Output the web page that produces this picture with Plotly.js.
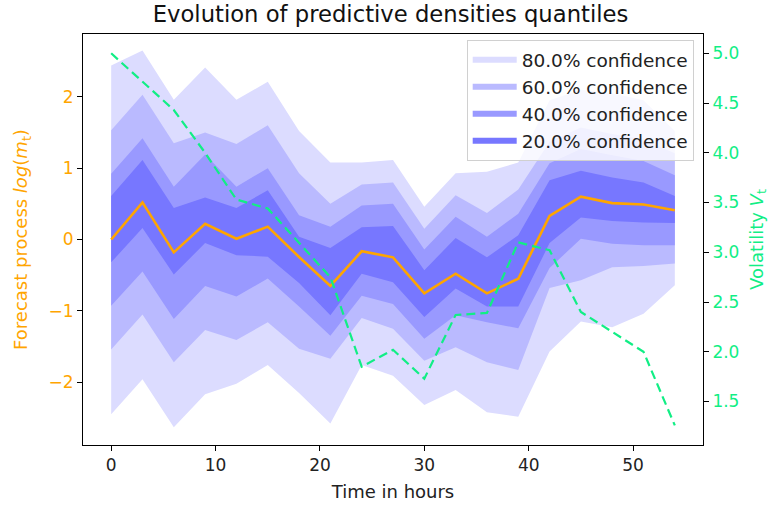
<!DOCTYPE html>
<html>
<head>
<meta charset="utf-8">
<script src="https://cdn.plot.ly/plotly-3.0.1.min.js"></script>
<style>html,body{margin:0;padding:0;background:#fff;}#chart{width:774px;height:507px;}</style>
</head>
<body>
<div id="chart"></div>
<script>
const hours = [0,3,6,9,12,15,18,21,24,27,30,33,36,39,42,45,48,51,54];
const median = [0.0,0.52,-0.18,0.22,0.01,0.18,-0.245,-0.65,-0.165,-0.25,-0.755,-0.48,-0.755,-0.55,0.33,0.60,0.51,0.49,0.41];
const volatility = [5.0,4.72,4.43,4.0,3.53,3.44,3.1,2.75,1.85,2.02,1.73,2.37,2.39,3.10,3.02,2.40,2.20,2.0,1.26];
const upper80 = [2.44,2.65,1.96,2.41,1.96,2.21,1.52,1.08,1.08,1.115,0.46,0.93,0.95,1.08,1.95,2.10,2.05,1.95,1.52];
const upper60 = [1.53,2.03,1.35,1.50,1.34,1.60,0.93,0.50,0.77,0.80,0.15,0.62,0.37,0.70,1.37,1.57,1.48,1.40,1.21];
const upper40 = [0.92,1.42,0.74,1.19,0.74,1.00,0.34,0.18,0.475,0.50,-0.14,0.32,0.04,0.36,1.07,1.27,1.18,1.10,0.90];
const upper20 = [0.61,1.115,0.44,0.59,0.44,0.69,0.04,-0.12,0.17,0.19,-0.43,0.02,-0.25,0.06,0.83,0.965,0.87,0.80,0.61];
const lower20 = [-0.32,0.16,-0.49,-0.05,-0.22,-0.24,-0.61,-1.06,-0.48,-0.60,-1.085,-0.685,-0.94,-0.94,-0.05,0.31,0.26,0.24,0.23];
const lower40 = [-0.93,-0.45,-1.115,-0.65,-0.80,-0.545,-0.94,-1.35,-0.79,-0.905,-1.39,-1.06,-1.16,-1.245,-0.40,0.01,-0.06,-0.08,-0.08];
const lower60 = [-1.54,-1.05,-1.72,-1.27,-1.41,-1.16,-1.53,-1.67,-1.10,-1.25,-1.70,-1.51,-1.72,-1.83,-0.68,-0.57,-0.39,-0.37,-0.335];
const lower80 = [-2.45,-1.96,-2.63,-2.17,-2.02,-1.76,-2.15,-2.58,-1.76,-1.91,-2.32,-2.11,-2.42,-2.485,-1.57,-1.15,-1.23,-1.04,-0.64];
const bandLabels = ["80.0% confidence","60.0% confidence","40.0% confidence","20.0% confidence"];

const bandColors = ["#dcdcff","#babaff","#9999ff","#7777ff"];
const uppers = [upper80, upper60, upper40, upper20];
const lowers = [lower80, lower60, lower40, lower20];

const traces = [];
for (let b = 0; b < 4; b++) {
  const xs = hours.concat(hours.slice().reverse());
  const ys = uppers[b].concat(lowers[b].slice().reverse());
  traces.push({
    x: xs, y: ys, type: 'scatter', mode: 'none', fill: 'toself',
    fillcolor: bandColors[b], name: bandLabels[b], legendgroup: 'g' + b, hoverinfo: 'skip'
  });
}
traces.push({x: hours, y: median, type: 'scatter', mode: 'lines',
  line: {color: '#ffa500', width: 2.6}, showlegend: false});
traces.push({x: hours, y: volatility, type: 'scatter', mode: 'lines', yaxis: 'y2',
  line: {color: '#11ee85', width: 2.2, dash: '9px,5px'}, showlegend: false});

const FAM = 'DejaVu Sans, sans-serif';
const layout = {
  width: 774, height: 507,
  margin: {l: 83, r: 71, t: 34, b: 62},
  paper_bgcolor: '#fff', plot_bgcolor: '#fff',
  font: {family: FAM, size: 17, color: '#222'},
  title: {text: 'Evolution of predictive densities quantiles', x: 0.496, xref: 'paper', xanchor: 'center', y: 0.972, yanchor: 'middle',
    font: {family: FAM, size: 22.7, color: '#111'}},
  showlegend: true,
  legend: {x: 0.985, y: 0.985, xanchor: 'right', yanchor: 'top',
    bgcolor: 'rgba(255,255,255,0.8)', bordercolor: '#d0d0d0', borderwidth: 1,
    font: {family: FAM, size: 18.5, color: '#222'}, traceorder: 'normal',
    itemwidth: 44, tracegroupgap: 7},
  xaxis: {range: [-2.7, 56.7], dtick: 10, tick0: 0, ticks: 'outside', ticklen: 5, tickcolor: '#000',
    showline: true, linecolor: '#000', linewidth: 1, mirror: true, showgrid: false, zeroline: false,
    tickfont: {family: FAM, size: 17, color: '#222'},
    title: {text: 'Time in hours', font: {family: FAM, size: 18, color: '#222'}, standoff: 10}},
  yaxis: {range: [-2.88, 2.88], dtick: 1, tick0: 0, ticks: 'outside', ticklen: 5, tickcolor: '#000',
    showline: true, linecolor: '#000', linewidth: 1, mirror: true, showgrid: false, zeroline: false,
    tickfont: {family: FAM, size: 17, color: '#ffa500'},
    title: {text: 'Forecast process <i>log</i>(<i>m</i><sub>t</sub>)', font: {family: FAM, size: 18, color: '#ffa500'}, standoff: 16}},
  yaxis2: {overlaying: 'y', side: 'right', range: [1.063, 5.194], dtick: 0.5, tick0: 0, tickformat: '.1f',
    ticks: 'outside', ticklen: 5, tickcolor: '#000', showline: true, linecolor: '#000', linewidth: 1,
    showgrid: false, zeroline: false,
    tickfont: {family: FAM, size: 17, color: '#11ee85'},
    title: {text: 'Volatility <i>V</i><sub>t</sub>', font: {family: FAM, size: 18, color: '#11ee85'}, standoff: 11}}
};
Plotly.newPlot('chart', traces, layout, {displayModeBar: false, staticPlot: true});
</script>
</body>
</html>
